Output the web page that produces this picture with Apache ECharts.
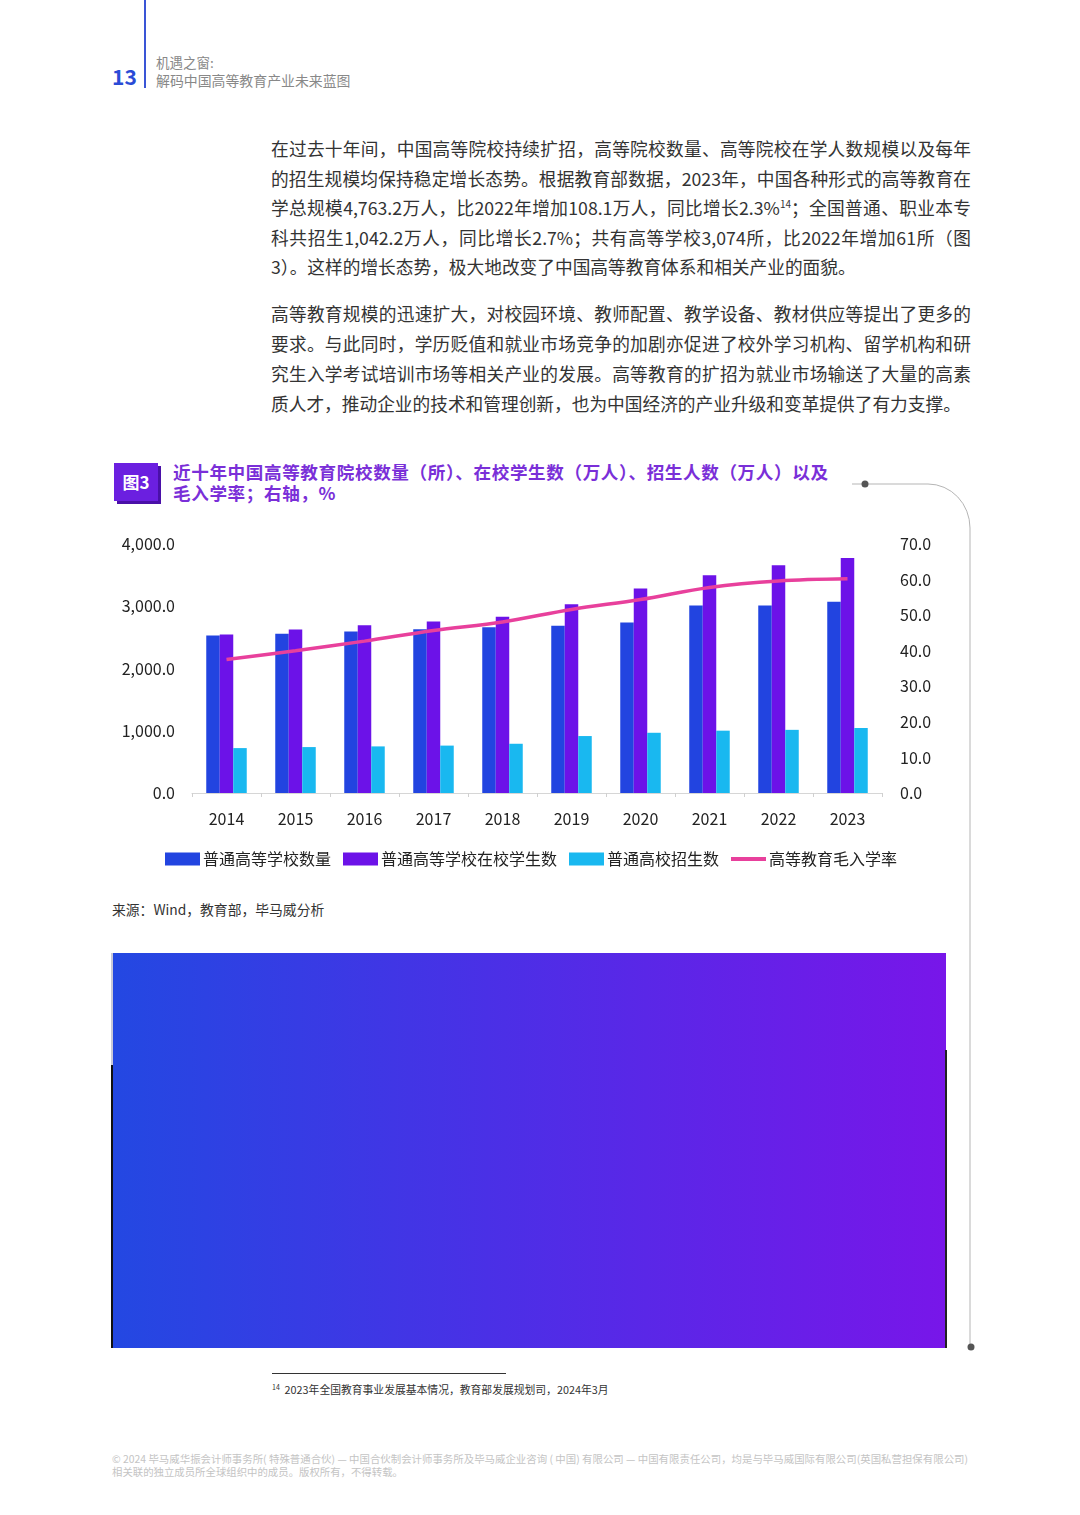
<!DOCTYPE html>
<html>
<head>
<meta charset="utf-8">
<script src="https://cdn.jsdelivr.net/npm/echarts@6/dist/echarts.min.js"></script>
<style>
  html, body { margin:0; padding:0; background:#fff; }
  body { width:1080px; height:1515px; position:relative; overflow:hidden; font-family:"Noto Sans CJK SC","Noto Sans",sans-serif; color:#333; }
  .abs { position:absolute; }
  .pline { position:absolute; left:271px; width:700px; font-size:17.7px; line-height:30px; height:30px; white-space:nowrap; text-align:justify; text-align-last:justify; color:#333; }
  .pline.last { text-align-last:left; }
  sup { font-size:10px; line-height:0; vertical-align:7px; }
</style>
</head>
<body>
<!-- header -->
<div class="abs" style="left:144px;top:0;width:1.5px;height:88px;background:#3a55d6;"></div>
<div class="abs" style="left:112px;top:62px;font-size:21px;font-weight:700;color:#2a4bd6;line-height:28px;">13</div>
<div class="abs" style="left:156px;top:53px;font-size:13.5px;color:#888;line-height:18px;">机遇之窗:</div>
<div class="abs" style="left:156px;top:71px;font-size:13.9px;color:#888;line-height:18px;">解码中国高等教育产业未来蓝图</div>

<!-- paragraphs -->
<div class="pline" style="top:133px;">在过去十年间，中国高等院校持续扩招，高等院校数量、高等院校在学人数规模以及每年</div>
<div class="pline" style="top:162.5px;">的招生规模均保持稳定增长态势。根据教育部数据，2023年，中国各种形式的高等教育在</div>
<div class="pline" style="top:192px;">学总规模4,763.2万人，比2022年增加108.1万人，同比增长2.3%<sup>14</sup>；全国普通、职业本专</div>
<div class="pline" style="top:222px;">科共招生1,042.2万人，同比增长2.7%；共有高等学校3,074所，比2022年增加61所（图</div>
<div class="pline last" style="top:251px;">3）。这样的增长态势，极大地改变了中国高等教育体系和相关产业的面貌。</div>

<div class="pline" style="top:298px;">高等教育规模的迅速扩大，对校园环境、教师配置、教学设备、教材供应等提出了更多的</div>
<div class="pline" style="top:328px;">要求。与此同时，学历贬值和就业市场竞争的加剧亦促进了校外学习机构、留学机构和研</div>
<div class="pline" style="top:358px;">究生入学考试培训市场等相关产业的发展。高等教育的扩招为就业市场输送了大量的高素</div>
<div class="pline last" style="top:388px;">质人才，推动企业的技术和管理创新，也为中国经济的产业升级和变革提供了有力支撑。</div>

<!-- figure title -->
<div class="abs" style="left:114px;top:463px;width:44px;height:38px;background:#6b1fe0;box-shadow:3px 3px 0 #4a10a8;color:#fff;font-weight:700;font-size:17px;line-height:38px;text-align:center;">图3</div>
<div class="abs" style="left:173px;top:461px;font-size:17.6px;letter-spacing:0.6px;font-weight:700;color:#7a2fd8;line-height:21px;white-space:nowrap;">近十年中国高等教育院校数量（所）、在校学生数（万人）、招生人数（万人）以及<br>毛入学率；右轴，%</div>

<!-- decorative line -->
<svg class="abs" style="left:0;top:0;" width="1080" height="1515">
  <path d="M852,484 L928,484 A42,44 0 0 1 970,528 L970,1347" fill="none" stroke="#b5b5b5" stroke-width="1"/>
  <circle cx="865" cy="484" r="3.5" fill="#555"/>
  <circle cx="971" cy="1347" r="3.5" fill="#555"/>
</svg>

<!-- chart -->
<div id="chart" class="abs" style="left:0;top:520px;width:1080px;height:370px;"></div>

<div class="abs" style="left:112px;top:900px;font-size:13.8px;color:#333;line-height:18px;">来源：Wind，教育部，毕马威分析</div>

<!-- gradient block -->
<div class="abs" style="left:112px;top:953px;width:834px;height:395px;background:linear-gradient(to right,#2348e2,#4a30e6 45%,#7816e9);"></div>
<div class="abs" style="left:111px;top:953px;width:2px;height:112px;background:#c8c8d8;"></div>
<div class="abs" style="left:111px;top:1065px;width:2px;height:283px;background:#111;"></div>
<div class="abs" style="left:945px;top:1050px;width:2px;height:298px;background:#222;"></div>

<!-- footnote -->
<div class="abs" style="left:272px;top:1373px;width:234px;height:1.2px;background:#333;"></div>
<div class="abs" style="left:272px;top:1380px;font-size:10.8px;color:#333;line-height:14px;white-space:nowrap;"><span style="font-size:7px;vertical-align:4px;">14</span>&nbsp;&nbsp;2023年全国教育事业发展基本情况，教育部发展规划司，2024年3月</div>

<!-- footer -->
<div class="abs" style="left:112px;top:1453px;width:856px;font-size:10.4px;color:#c4c4c4;line-height:12.5px;text-align:justify;">© 2024 毕马威华振会计师事务所( 特殊普通合伙) — 中国合伙制会计师事务所及毕马威企业咨询 ( 中国) 有限公司 — 中国有限责任公司，均是与毕马威国际有限公司(英国私营担保有限公司)相关联的独立成员所全球组织中的成员。版权所有，不得转载。</div>

<script>
const years = ['2014','2015','2016','2017','2018','2019','2020','2021','2022','2023'];
const schools = [2529, 2560, 2596, 2631, 2663, 2688, 2738, 3012, 3013, 3074];
const students = [2547.7, 2625.3, 2695.8, 2753.6, 2831.0, 3031.5, 3285.3, 3496.1, 3659.4, 3775.0];
const enrollment = [721.4, 737.8, 748.6, 761.5, 791.0, 914.9, 967.5, 1001.3, 1014.5, 1042.2];
const grossRate = [37.5, 40.0, 42.7, 45.7, 48.1, 51.6, 54.4, 57.8, 59.6, 60.2];
const seriesNames = ['普通高等学校数量','普通高等学校在校学生数','普通高校招生数','高等教育毛入学率'];

const font = '"Noto Sans CJK SC","Noto Sans",sans-serif';
const chart = echarts.init(document.getElementById('chart'), null, {renderer:'canvas'});
chart.setOption({
  animation:false,
  textStyle:{fontFamily:font},
  grid:{left:192, right:198, top:24, bottom:97},
  legend:{
    left:165, top:331, itemWidth:35, itemHeight:13, itemGap:12, padding:0,
    textStyle:{fontSize:16, color:'#222', fontFamily:font, padding:[0,0,0,-2]},
    data:[
      {name:seriesNames[0], icon:'rect'},
      {name:seriesNames[1], icon:'rect'},
      {name:seriesNames[2], icon:'rect'},
      {name:seriesNames[3], icon:'path://M0,0H35V4H0Z'}
    ]
  },
  xAxis:{
    type:'category', data:years,
    axisLine:{lineStyle:{color:'#d6d6d6', width:1}},
    axisTick:{show:true, length:4, lineStyle:{color:'#d0d0d0'}},
    axisLabel:{fontSize:16, color:'#222', margin:18, fontFamily:font}
  },
  yAxis:[
    {type:'value', min:0, max:4000, interval:1000,
     splitLine:{show:false}, axisLine:{show:false}, axisTick:{show:false},
     axisLabel:{fontSize:16, color:'#222', margin:17, fontFamily:font,
       formatter:v=>v.toLocaleString('en-US',{minimumFractionDigits:1,maximumFractionDigits:1})}},
    {type:'value', min:0, max:70, interval:10, position:'right',
     splitLine:{show:false}, axisLine:{show:false}, axisTick:{show:false},
     axisLabel:{fontSize:16, color:'#222', margin:18, fontFamily:font,
       formatter:v=>v.toFixed(1)}}
  ],
  series:[
    {name:seriesNames[0], type:'bar', data:schools, barWidth:13.5, barGap:'0%', itemStyle:{color:'#2244e0'}},
    {name:seriesNames[1], type:'bar', data:students, barWidth:13.5, barGap:'0%', itemStyle:{color:'#6c12e8'}},
    {name:seriesNames[2], type:'bar', data:enrollment, barWidth:13.5, barGap:'0%', itemStyle:{color:'#19b8f0'}},
    {name:seriesNames[3], type:'line', yAxisIndex:1, data:grossRate, smooth:0.35, symbol:'none', z:5,
     lineStyle:{color:'#e8409c', width:3.5}, itemStyle:{color:'#e8409c'}}
  ]
});
</script>
</body>
</html>
